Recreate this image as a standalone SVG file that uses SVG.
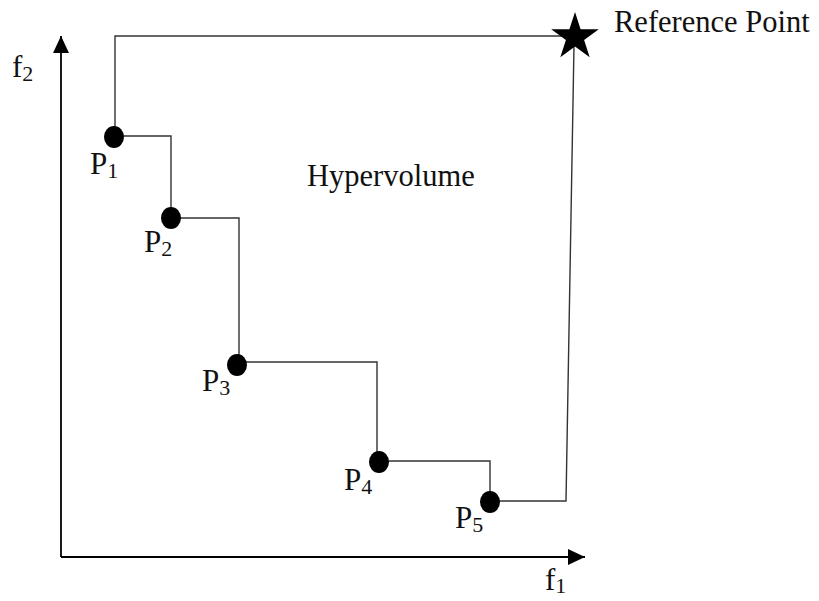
<svg xmlns="http://www.w3.org/2000/svg" width="819" height="601" viewBox="0 0 819 601">
<style>
.t{font-family:"Liberation Serif","Times New Roman",serif;font-size:30.5px;fill:#111}
.p{font-family:"Liberation Serif","Times New Roman",serif;font-size:31px;fill:#111}
.s{font-family:"Liberation Serif","Times New Roman",serif;font-size:22px;fill:#111}
.c{fill:none;stroke:#333;stroke-width:1.4}
.ax{fill:none;stroke:#000;stroke-width:1.8}
.dot{fill:#000}
</style>
<defs>
<marker id="ah" markerWidth="18" markerHeight="16" refX="17" refY="8" orient="auto" markerUnits="userSpaceOnUse">
<path d="M0,0 L17,8 L0,16 Z" fill="#000"/>
</marker>
</defs>
<rect width="819" height="601" fill="#fff"/>
<g id="axes">
<line class="ax" x1="61" y1="557" x2="61" y2="36" marker-end="url(#ah)"/>
<line class="ax" x1="61" y1="557" x2="585" y2="557" marker-end="url(#ah)"/>
<text class="p" x="12" y="77">f<tspan class="s" dy="4">2</tspan></text>
<text class="p" x="545" y="590">f<tspan class="s" dy="3">1</tspan></text>
</g>
<g id="connectors">
<polyline class="c" points="115,137 115,36 575,36"/>
<polyline class="c" points="114,136 171,136 171,218"/>
<polyline class="c" points="171,218 239,218 239,364"/>
<polyline class="c" points="237,362 377,362 377,462"/>
<polyline class="c" points="379,461 490,461 490,502"/>
<polyline class="c" points="490,501 566,501 574,45"/>
</g>
<g id="ref-point">
<polygon class="dot" points="575,12 580.6,29.3 598.8,29.3 584.1,40 589.7,57.2 575,46.6 560.3,57.2 565.9,40 551.2,29.3 569.4,29.3"/>
<text class="t" x="614" y="32">Reference Point</text>
</g>
<g id="hypervolume">
<text class="t" x="307" y="186">Hypervolume</text>
</g>
<g id="p1">
<ellipse class="dot" cx="114" cy="137" rx="10" ry="11"/>
<text class="p" x="90" y="174">P<tspan class="s" dy="4">1</tspan></text>
</g>
<g id="p2">
<ellipse class="dot" cx="171" cy="218" rx="10" ry="11"/>
<text class="p" x="144" y="252">P<tspan class="s" dy="4">2</tspan></text>
</g>
<g id="p3">
<ellipse class="dot" cx="237" cy="365" rx="10" ry="11"/>
<text class="p" x="202" y="391">P<tspan class="s" dy="4">3</tspan></text>
</g>
<g id="p4">
<ellipse class="dot" cx="379" cy="462" rx="10" ry="11"/>
<text class="p" x="344" y="490">P<tspan class="s" dy="4">4</tspan></text>
</g>
<g id="p5">
<ellipse class="dot" cx="490" cy="502" rx="10" ry="11"/>
<text class="p" x="455" y="528">P<tspan class="s" dy="4">5</tspan></text>
</g>
</svg>
